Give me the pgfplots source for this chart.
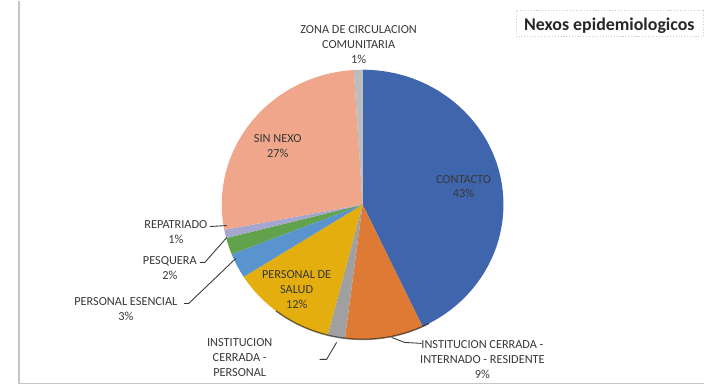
\documentclass[border=0pt]{standalone}
\usepackage{pgfplots}
\usepackage{pgfplotstable}
\pgfplotsset{compat=1.18}
\usepackage{fontspec}
\setmainfont{Carlito}
\definecolor{cA}{HTML}{3F65AD}
\definecolor{cB}{HTML}{DF7A35}
\definecolor{cC}{HTML}{A0A0A0}
\definecolor{cD}{HTML}{E3AE0E}
\definecolor{cE}{HTML}{5A94CF}
\definecolor{cF}{HTML}{62A24C}
\definecolor{cG}{HTML}{A3A6CF}
\definecolor{cH}{HTML}{EFA68A}
\definecolor{cI}{HTML}{BDBDBD}
\definecolor{txt}{HTML}{383838}
\pgfplotstableread{
name value col
CONTACTO 43 cA
INSTCERRADAINTERNADO 9 cB
INSTCERRADAPERSONAL 2 cC
PERSONALSALUD 12 cD
PERSONALESENCIAL 3 cE
PESQUERA 2 cF
REPATRIADO 1 cG
SINNEXO 27 cH
ZONA 1 cI
}\pietable
\begin{document}
\begin{tikzpicture}
\begin{axis}[
  scale only axis, width=14.1cm, height=7.74cm,
  xmin=0, xmax=705, ymin=0, ymax=387,
  hide axis, clip=false,
]
\path (axis cs:0,0) rectangle (axis cs:705,387);
\coordinate (C) at (axis cs:363,183);
\end{axis}
% slices from the table
\xdef\startang{90}
\pgfplotstablegetrowsof{\pietable}
\pgfmathtruncatemacro\nrows{\pgfplotsretval-1}
\foreach \i in {0,...,\nrows}{
  \pgfplotstablegetelem{\i}{value}\of\pietable \let\val\pgfplotsretval
  \pgfplotstablegetelem{\i}{col}\of\pietable \let\colname\pgfplotsretval
  \pgfmathsetmacro\endang{\startang-3.6*\val}
  \fill[fill=\colname] (C) -- ++({2.82cm*cos(\startang)},{2.70cm*sin(\startang)})
     arc[start angle=\startang, end angle=\endang, x radius=2.82cm, y radius=2.70cm] -- cycle;
  \xdef\startang{\endang}
}
\draw[black, opacity=0.55, line width=0.8pt] (C) ++({2.82cm*cos(-62)},{2.70cm*sin(-62)})
   arc[start angle=-62, end angle=-128, x radius=2.82cm, y radius=2.70cm];
\begin{axis}[
  scale only axis, width=14.1cm, height=7.74cm,
  xmin=0, xmax=705, ymin=0, ymax=387,
  hide axis, clip=false,
]
% frame
\draw[gray!45, line width=0.9pt] (axis cs:19,387) -- (axis cs:19,4) -- (axis cs:705,4);
% title
\draw[gray!40, densely dotted, line width=0.6pt] (axis cs:517,377) rectangle (axis cs:704,351);
\node[font=\bfseries\fontsize{10.2}{12}\selectfont, text=black!85] at (axis cs:610,362) {Nexos epidemiologicos};
% labels
\tikzset{lab/.style={font=\fontsize{7}{8.5}\selectfont, text=txt, align=center, inner sep=0pt}}
\node[lab] at (axis cs:359,343) {ZONA DE CIRCULACION\\COMUNITARIA\\1\%};
\node[lab] at (axis cs:278,242) {SIN NEXO\\27\%};
\node[lab] at (axis cs:464,201) {CONTACTO\\43\%};
\node[lab] at (axis cs:176,155) {REPATRIADO\\1\%};
\node[lab] at (axis cs:170,119) {PESQUERA\\2\%};
\node[lab] at (axis cs:126,78) {PERSONAL ESENCIAL\\3\%};
\node[lab] at (axis cs:297,98) {PERSONAL DE\\SALUD\\12\%};
\node[lab] at (axis cs:240,30) {INSTITUCION\\CERRADA -\\PERSONAL};
\node[lab] at (axis cs:483,28) {INSTITUCION CERRADA -\\INTERNADO - RESIDENTE\\9\%};
% leader lines
\tikzset{lead/.style={txt, line width=0.5pt}}
\draw[lead] (axis cs:210,161) -- (axis cs:227,162);
\draw[lead] (axis cs:200,125) -- (axis cs:205,125) -- (axis cs:227,150);
\draw[lead] (axis cs:184,84) -- (axis cs:189,84) -- (axis cs:236,129);
\draw[lead] (axis cs:320,28) -- (axis cs:327,28) -- (axis cs:337,45);
\draw[lead] (axis cs:392,50) -- (axis cs:405,45) -- (axis cs:422,44);
\end{axis}
\end{tikzpicture}
\end{document}
